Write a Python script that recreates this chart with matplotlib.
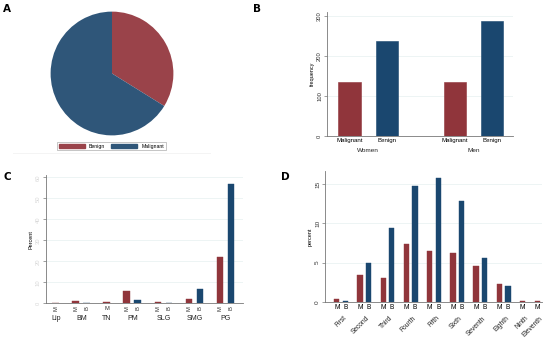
import matplotlib
matplotlib.use("Agg")
import matplotlib.pyplot as plt
from matplotlib.patches import Patch
from matplotlib.transforms import blended_transform_factory as btf
from matplotlib.lines import Line2D

plt.rcParams['font.family'] = ['Liberation Sans', 'DejaVu Sans']

# ---------------- data ----------------
pie_labels = ['Benign', 'Malignant']
pie_values = [33.8, 66.2]

b_groups = ['Women', 'Men']
b_bar_labels = ['Malignant', 'Benign']
b_women = [135, 238]
b_men = [134, 288]

c_sites = ['Lip', 'BM', 'TN', 'PM', 'SLG', 'SMG', 'PG']
c_M = [0.1, 0.9, 0.6, 5.9, 0.5, 2.0, 22.1]
c_B = [None, 0.3, None, 1.4, 0.1, 6.7, 56.8]
c_yticks = [0, 10, 20, 30, 40, 50, 60]

d_grades = ['First', 'Second', 'Third', 'Fourth', 'Fifth', 'Sixth',
            'Seventh', 'Eighth', 'Ninth', 'Eleventh']
d_M = [0.35, 3.37, 2.98, 7.37, 6.48, 6.22, 4.6, 2.22, 0.1, 0.1]
d_B = [0.1, 4.98, 9.37, 14.78, 15.76, 12.9, 5.6, 2.05, None, None]
d_yticks = [0, 5, 10, 15]

RED = '#90353B'
BLUE = '#1A476F'
PIE_RED = '#9A434A'
PIE_BLUE = '#2F5679'
GRID = '#EAF2F3'
AXC = '#777777'

W, H = 550, 341
fig = plt.figure(figsize=(5.5, 3.41), dpi=100)


def px_axes(x0, y0, x1, y1):
    return fig.add_axes([x0 / W, 1 - y1 / H, (x1 - x0) / W, (y1 - y0) / H])


def style_axes(ax, ticklabel_color='#333333'):
    for s in ['top', 'right']:
        ax.spines[s].set_visible(False)
    for s in ['left', 'bottom']:
        ax.spines[s].set_color(AXC)
        ax.spines[s].set_linewidth(0.6)
    ax.tick_params(axis='y', length=2, width=0.5, color=AXC, labelsize=4.2,
                   labelcolor=ticklabel_color, pad=1.5)
    for lab in ax.get_yticklabels():
        lab.set_rotation(90)
        lab.set_va('center')
    ax.tick_params(axis='x', length=0, labelsize=4.5, pad=2)
    ax.yaxis.grid(True, color=GRID, lw=0.6)
    ax.set_axisbelow(True)


def layout(M, B, w, b):
    pm, pb, centers = [], [], []
    p = 0.0
    for i in range(len(M)):
        pm.append(p)
        if B[i] is not None:
            pb.append(p + w)
            centers.append(p + w / 2)
            p += w
        else:
            pb.append(None)
            centers.append(p)
        p += b
    return pm, pb, centers

# ---------------- A: pie ----------------
axA = px_axes(50, 11, 174, 136)
axA.pie(pie_values, colors=[PIE_RED, PIE_BLUE], startangle=90, counterclock=False,
        wedgeprops=dict(linewidth=0))
axA.set_xlim(-1.01, 1.01)
axA.set_ylim(-1.01, 1.01)
axA.set_aspect('auto')
axA.axis('off')
handles = [Patch(facecolor=PIE_RED, edgecolor=PIE_RED, label=pie_labels[0]),
           Patch(facecolor=PIE_BLUE, edgecolor=PIE_BLUE, label=pie_labels[1])]
leg = fig.legend(handles=handles, loc='center', ncol=2, fontsize=3.7,
                 bbox_to_anchor=(111.5 / W, 1 - 146 / H), frameon=True,
                 fancybox=False, edgecolor='#999999', handlelength=5.0,
                 handleheight=0.8, columnspacing=1.2, handletextpad=0.8,
                 borderpad=0.35, borderaxespad=0)
leg.get_frame().set_linewidth(0.5)
fig.add_artist(Line2D([13 / W, 210 / W], [1 - 152.7 / H] * 2, color='#f2f2f2', lw=0.6))

# ---------------- B: frequency bars ----------------
axB = px_axes(327, 11.7, 513, 136)
bw = 0.59
gpos = [0.0, 2.81]
for gi, vals in enumerate([b_women, b_men]):
    axB.bar(gpos[gi], vals[0], width=bw, color=RED, edgecolor=RED, lw=0.4)
    axB.bar(gpos[gi] + 1, vals[1], width=bw, color=BLUE, edgecolor=BLUE, lw=0.4)
axB.set_xlim(-0.6, 4.36)
axB.set_ylim(0, 310)
axB.set_yticks([0, 100, 200, 300])
axB.set_xticks([g + k for g in gpos for k in (0, 1)])
axB.set_xticklabels(b_bar_labels * 2)
style_axes(axB)
axB.tick_params(axis='x', labelsize=4.4, pad=1.5)
axB.set_ylabel('frequency', fontsize=4, labelpad=1.5)
tB = btf(axB.transData, axB.transAxes)
for gi, g in enumerate(b_groups):
    axB.text(gpos[gi] + 0.5, -0.115, g, transform=tB, ha='center', va='center',
             fontsize=4.6, color='#222222')

# ---------------- C: site bars ----------------
axC = px_axes(45.7, 175, 243, 303.3)
cw = 6.7
pm, pb, cc = layout(c_M, c_B, 11, 20)
ticks, labs, rots = [], [], []
for i in range(len(c_sites)):
    axC.bar(pm[i], c_M[i], width=cw, color=RED, edgecolor=RED, lw=0.3)
    ticks.append(pm[i]); labs.append('M'); rots.append(0 if c_B[i] is None and i == 2 else 90)
    if pb[i] is not None:
        axC.bar(pb[i], c_B[i], width=cw, color=BLUE, edgecolor=BLUE, lw=0.3)
        ticks.append(pb[i]); labs.append('B'); rots.append(90)
axC.set_xlim(pm[0] - 10, pb[-1] + 12)
axC.set_ylim(0, 61.1)
axC.set_yticks(c_yticks)
axC.set_xticks(ticks)
axC.set_xticklabels(labs)
style_axes(axC, ticklabel_color='#d8d8d8')
axC.tick_params(axis='x', labelsize=4.2, pad=2, labelcolor='#333333')
for lab, r in zip(axC.get_xticklabels(), rots):
    lab.set_rotation(r)
    lab.set_va('top')
    lab.set_ha('center')
axC.set_ylabel('Percent', fontsize=4, labelpad=1.5)
tC = btf(axC.transData, axC.transAxes)
for i, s in enumerate(c_sites):
    axC.text(cc[i], -0.122, s, transform=tC, ha='center', va='center',
             fontsize=5, color='#222222')

# ---------------- D: grade bars ----------------
axD = px_axes(325, 171, 542, 301.7)
dw = 5.3
pm, pb, dc = layout(d_M, d_B, 8.45, 14.55)
ticks, labs = [], []
for i in range(len(d_grades)):
    axD.bar(pm[i], d_M[i], width=dw, color=RED, edgecolor=RED, lw=0.3)
    ticks.append(pm[i]); labs.append('M')
    if pb[i] is not None:
        axD.bar(pb[i], d_B[i], width=dw, color=BLUE, edgecolor=BLUE, lw=0.3)
        ticks.append(pb[i]); labs.append('B')
axD.set_xlim(pm[0] - 11.7, pm[-1] + 4.7)
axD.set_ylim(0, 16.7)
axD.set_yticks(d_yticks)
axD.set_xticks(ticks)
axD.set_xticklabels(labs)
style_axes(axD)
axD.tick_params(axis='x', labelsize=4.8, pad=1.5)
axD.tick_params(axis='y', labelsize=4.6)
axD.set_ylabel('percent', fontsize=4, labelpad=1.5)
tD = btf(axD.transData, axD.transAxes)
for i, g in enumerate(d_grades):
    axD.text(dc[i] + 2, -0.1, g, transform=tD, ha='right', va='top', rotation=45,
             rotation_mode='anchor', fontsize=4.8, color='#222222')

# ---------------- panel letters ----------------
for letter, x, y in [('A', 3, 8.5), ('B', 253, 8.5), ('C', 3, 177), ('D', 281, 177)]:
    fig.text(x / W, 1 - y / H, letter, fontsize=7.5, fontweight='bold',
             ha='left', va='center', family=['DejaVu Sans'])

fig.savefig('out.png', dpi=100)
